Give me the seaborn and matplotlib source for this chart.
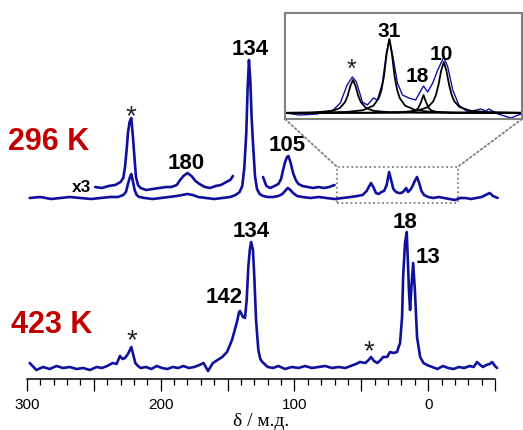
import numpy as np
import matplotlib
matplotlib.use("Agg")
import matplotlib.pyplot as plt
import seaborn as sns
from matplotlib.patches import Rectangle, ConnectionPatch

sns.set_style("white")
plt.rcParams['font.family'] = ['Liberation Sans', 'DejaVu Sans']
plt.rcParams['text.color'] = 'black'
plt.rcParams['xtick.color'] = 'black'
plt.rcParams['axes.labelcolor'] = 'black'

BLUE = '#10109c'
RED = '#c00000'
GRAY = '#808080'

# --- spectra (ppm, intensity) ---
# 296 K, main trace
top_ppm = [298, 290, 282, 275, 268, 260, 252, 245, 238, 232, 228, 226, 224.5, 223, 222, 221, 219.5, 218, 216,
           212, 206, 200, 194, 188, 184, 180, 176, 172, 166, 160, 154, 148, 144, 141, 139, 137.5, 136, 135, 134,
           133, 132, 131, 129.5, 128, 126, 123.5, 120, 116, 112, 109, 107, 105, 103, 101, 98, 94, 88, 82, 76, 70,
           64, 58, 53, 49, 46, 44, 42.7, 41, 39, 37, 35, 33, 31, 29.2, 27.5, 26, 24, 22, 20, 18, 16.5, 15, 13.5,
           12, 10, 8.3, 6.5, 5, 3, 0, -4, -8, -12, -16, -20, -24, -28, -32, -36, -40, -43, -46, -48.5, -52]
top_int = [0, 1, -1, 0, 1, 0, -1, 0, 1, 1, 3, 6, 14, 21, 24, 18, 8, 3, 1,
           0, -1, 0, 1, 2, 3, 4, 3, 1, 0, -1, 0, 1, 3, 6, 12, 30, 65, 110, 138,
           118, 80, 55, 22, 9, 4, 2, 1, 1, 2, 4, 7, 10, 8, 5, 2, 1, 0, 1, 0, -1,
           0, 1, 2, 3, 7, 12, 15, 11, 5, 4, 6, 7, 13, 26, 17, 9, 6, 5, 5, 7, 10, 6, 8,
           11, 17, 21, 14, 7, 3, 1, 0, 1, 0, -1, -2, 0, 0, -1, 0, 1, 3, 5, 2, 0]

# 296 K, x3 trace (two pieces)
x3a_ppm = [249, 244, 239, 234, 230, 228, 226.7, 225.5, 224.5, 223.3, 222, 220.7, 219.5, 218.5, 217, 215, 211,
           206, 201, 196, 192, 188, 185.5, 183, 180, 177, 174, 171, 167, 163, 159, 155, 151, 148, 146]
x3a_int = [1, 0, 2, 3, 6, 10, 21, 38, 55, 66, 70, 50, 28, 11, 3, 0, -2,
           -1, 0, 1, 1, 3, 8, 12, 15, 12, 7, 4, 1, 0, 2, 3, 6, 8, 12]
x3b_ppm = [123.5, 121, 118, 115, 112, 110, 108.5, 107, 105.5, 104.5, 103, 101, 99, 97, 94, 90, 86, 82, 78, 74, 70]
x3b_int = [11, 2, 0, 2, 4, 9, 18, 26, 31, 32, 26, 15, 8, 4, 2, 1, 0, 1, 0, 1, 3]

# 423 K
low_ppm = [298, 293, 288, 283, 278, 273, 268, 263, 258, 253, 248, 244, 240, 236, 233, 230.5, 228.5, 226.7, 224.5,
           222, 220.5, 219, 217, 215, 211, 207, 203, 199, 195, 191, 187, 183, 179, 175, 171, 168, 164.6, 161,
           157.5, 154, 150.4, 146.7, 143, 141.4, 140.7, 138.5, 137, 135.7, 134.5, 133.3, 132.4, 131, 130, 128.7,
           127, 125.5, 124, 120, 116, 112, 107, 102, 97, 92, 87, 82, 77, 72, 67, 62, 58, 54, 51, 47, 44.5, 42.7,
           40.5, 38, 35.5, 33.7, 30.7, 28.5, 26, 23.3, 21, 19.5, 18.7, 17.3, 16, 15.2, 14.3, 13.5, 12.5, 11.2,
           9.8, 8.3, 6, 3.5, 0.8, -3, -7, -11, -15, -19, -23, -27, -31, -34, -36.6, -39, -41, -43.5, -46, -47.8,
           -50, -51.6]
low_int = [4, -3, 0, -2, 1, -1, 0, -2, -1, -3, 0, -1, 1, 4, 3, 11, 8, 9, 13,
           20, 12, 4, 1, -1, 0, -2, 1, -1, -2, 0, -1, 1, -1, 0, 2, 4, -4, 4,
           7, 10, 15, 27, 45, 55, 56, 50, 49, 67, 100, 118, 125, 117, 90, 47,
           17, 8, 5, 0, -1, 1, -2, 0, -1, 1, -1, 0, 1, -1, 0, -1, 1, 3, 5, 4, 7, 10,
           6, 4, 7, 10, 10, 15, 14, 15, 24, 50, 90, 124, 135, 107, 75, 57, 80, 104,
           74, 30, 10, 4, 2, 0, -2, 1, -1, -2, 0, -1, 1, 0, 5, 2, 0, 2, 3, 5,
           1, -1]

# inset: measured trace and fitted components
ins_ppm = [68, 62.3, 55.8, 49.7, 47, 44.4, 42.4, 40.9, 38.6, 36.7, 34.4, 32.9, 31, 29.5, 28.3, 26.8, 25.3,
           23.4, 21, 18.4, 16.9, 15.4, 13.8, 11.9, 10, 7.7, 6.2, 4.3, 2, -1.4, -6.4, -8.3, -9.4, -12.9, -17.8,
           -20.5, -22]
ins_int = [0, -2, -1, 3, 10, 28, 36, 31, 11, 8, 15, 13, 30, 60, 74, 53, 30,
           18, 15, 13, 20, 27, 21, 30, 43, 56, 46, 23, 8, 1, 4, 2, 4, -1, -5,
           -2, -1]

fit1_ppm = [68, 58, 50, 47.2, 45.2, 44.2, 43.2, 42.2, 41.2, 40.2, 39.2, 37.2, 34.2, 28, 18, -22]
fit1_int = [0.2, 0.4, 2.1, 4.9, 10.9, 17.3, 26.9, 33, 26.9, 17.3, 10.9, 4.9, 2.1, 0.7, 0.25, 0.1]
fit2_ppm = [68, 53.4, 44.4, 38.4, 34.4, 32.4, 31.4, 30.4, 29.4, 28.4, 27.4, 26.4, 25.4, 24.4, 22.4, 18.4,
            12.4, 3.4, -11.6, -22]
fit2_int = [0.1, 0.5, 1.1, 2.8, 7.4, 14.8, 22.8, 37, 59.2, 74, 59.2, 37, 22.8, 14.8, 7.4, 2.8,
            1.1, 0.5, 0.18, 0.1]
fit3_ppm = [68, 25.4, 20.4, 18.4, 17.4, 16.4, 15.4, 14.4, 13.4, 12.4, 10.4, 5.4, -22]
fit3_int = [0, 0.26, 1, 2.5, 4.9, 10.6, 18, 10.6, 4.9, 2.5, 1, 0.26, 0]
fit4_ppm = [68, 37.7, 23.7, 17.7, 13.7, 11.7, 10.7, 9.7, 8.7, 7.7, 6.7, 5.7, 4.7, 3.7, 1.7, -2.3, -8.3, -22]
fit4_int = [0.1, 0.27, 0.95, 2.3, 5.9, 11.7, 17.9, 28.3, 42.3, 51, 42.3, 28.3, 17.9, 11.7, 5.9, 2.3,
            0.95, 0.3]

tick_pos = [300, 250, 200, 150, 100, 50, 0, -50]
tick_lab = ['300', '', '200', '', '100', '', '0', '']

# --- figure ---
fig = plt.figure(figsize=(5.23, 4.30), dpi=100)
ax = fig.add_axes([27 / 523, 1 - 379 / 430, 468 / 523, 379 / 430])

top_off, x3_off = 169, 179
for xs, ys, off in [(top_ppm, top_int, top_off), (x3a_ppm, x3a_int, x3_off),
                    (x3b_ppm, x3b_int, x3_off), (low_ppm, low_int, 0)]:
    sns.lineplot(x=xs, y=np.array(ys) + off, ax=ax, color=BLUE, lw=1.9,
                 estimator=None, sort=False)
for ln in ax.lines:
    ln.set_clip_on(False)

ax.set_xlim(300, -50)
ax.set_ylim(-12, 367)
sns.despine(ax=ax, left=True, top=True, right=True)
ax.spines['bottom'].set_linewidth(1.1)
ax.spines['bottom'].set_color('black')
ax.set_yticks([])
ax.set_xticks(tick_pos)
ax.set_xticklabels(tick_lab, fontsize=11)
ax.xaxis.set_minor_locator(matplotlib.ticker.MultipleLocator(10))
ax.tick_params(axis='x', which='major', direction='out', length=8.5, width=0.9, pad=5, bottom=True)
ax.tick_params(axis='x', which='minor', direction='out', length=4.3, width=0.9, bottom=True)
ax.set_xlabel('δ / м.д.', fontsize=14, family=['Liberation Serif', 'DejaVu Serif'], labelpad=1)

bold = dict(fontsize=16, fontweight='bold', ha='center', va='baseline')
ax.text(283.5, 217, '296 K', color=RED, fontsize=22, fontweight='bold', ha='center', va='baseline')
ax.text(281.3, 34, '423 K', color=RED, fontsize=22, fontweight='bold', ha='center', va='baseline')
ax.text(259.6, 175, 'x3', fontsize=12.5, fontweight='bold', ha='center', va='baseline')
ax.text(181, 198, '180', **bold)
ax.text(133.2, 312, '134', **bold)
ax.text(105.5, 216, '105', **bold)
ax.text(132.4, 130, '134', **bold)
ax.text(152.6, 64, '142', **bold)
ax.text(17.2, 139, '18', **bold)
ax.text(0.0, 104, '13', **bold)
star = dict(fontsize=20, color='#222222', ha='center', va='baseline')
ax.text(222, 243, '*', **star)
ax.text(221.4, 19, '*', **star)
ax.text(44, 8, '*', **star)

# zoom box
ax.add_patch(Rectangle((68, 164), -90, 36, fill=False, ec=GRAY, lw=1.3, ls=(0, (1, 1.5)), clip_on=False))

# --- inset ---
axin = fig.add_axes([285 / 523, 1 - 119 / 430, 237 / 523, 106 / 430])
sns.lineplot(x=ins_ppm, y=ins_int, ax=axin, color=BLUE, lw=1.0, estimator=None, sort=False)
for xs, ys in [(fit1_ppm, fit1_int), (fit2_ppm, fit2_int), (fit3_ppm, fit3_int), (fit4_ppm, fit4_int)]:
    sns.lineplot(x=xs, y=ys, ax=axin, color='black', lw=1.3, estimator=None, sort=False)
axin.set_xlim(68, -22)
axin.set_ylim(-6, 100)
axin.set_xticks([])
axin.set_yticks([])
axin.set_xlabel('')
for s in axin.spines.values():
    s.set_visible(True)
    s.set_color(GRAY)
    s.set_linewidth(1.5)
ibold = dict(fontsize=15, fontweight='bold', ha='center', va='baseline')
axin.text(28.3, 76, '31', **ibold)
axin.text(17.7, 31, '18', **ibold)
axin.text(8.5, 53, '10', **ibold)
axin.text(42.8, 36, '*', fontsize=18, color='#222222', ha='center', va='baseline')

for xa, xb in [((0, 0), (68, 200)), ((1, 0), (-22, 200))]:
    con = ConnectionPatch(xyA=xa, coordsA=axin.transAxes, xyB=xb, coordsB=ax.transData,
                          color=GRAY, lw=1.3, ls=(0, (1, 1.5)))
    fig.add_artist(con)

fig.savefig('out.png', dpi=100)
